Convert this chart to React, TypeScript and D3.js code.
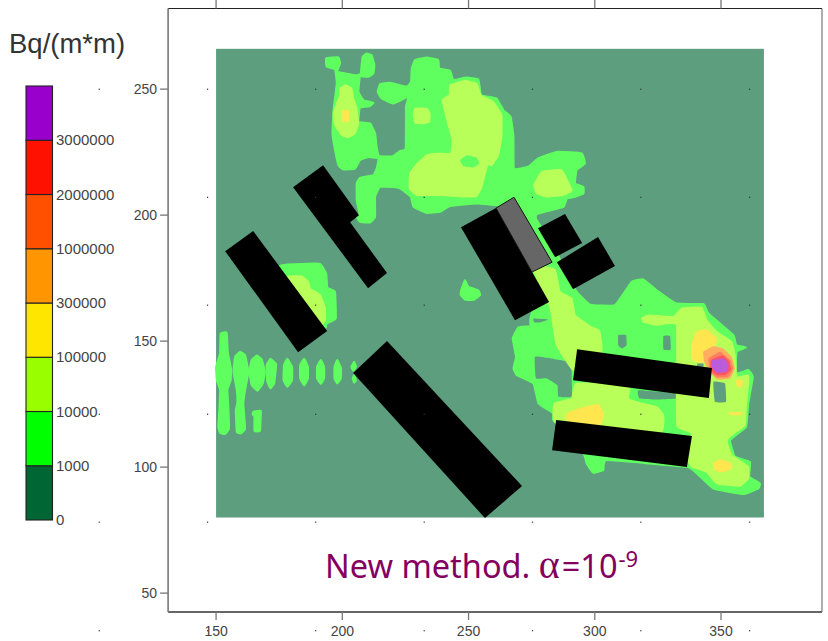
import React from "react";
import * as d3 from "d3";

type Pt = [number, number];

// Legend
const legendLevels = ["0", "1000", "10000", "100000", "300000", "1000000", "2000000", "3000000", ""];
const legendColors = ["#006633", "#00ff00", "#99ff00", "#ffe600", "#ff9500", "#ff5000", "#ff1100", "#9900cc"];

// Axis ticks
const xTicks = [150, 200, 250, 300, 350];
const yTicks = [50, 100, 150, 200, 250];
const dotXs = [103.7, 146.6, 189.4, 232.4, 275.3, 318.2, 361.3];
const dotYs = [250, 207.1, 164.3, 121, 78.2, 35.1];

// Domain covered by the concentration map
const mapX: Pt = [150, 367];
const mapY: Pt = [80, 266];

// Contour level 1 (1000 - 10000 Bq/m2)
const level1: Pt[][] = [
  [[193.6,262.2],[198.5,262.6],[199.1,260.2],[198.1,256.9],[205.7,255.5],[207.3,256.2],[208,262.8],[209.7,264.1],[211.6,263.5],[212.7,259.5],[212.3,256.2],[210.3,254.9],[207,254.9],[206.4,248.9],[208.4,245.6],[212.3,244.6],[211,243.3],[207,242.6],[206.4,237],[211,236.4],[213,232.4],[213.6,227.1],[214.6,223.4],[220,223.4],[222.9,225.5],[225.1,226.4],[225.2,243],[226.2,247],[220.2,244.3],[215.6,246.3],[214,248.9],[215,252],[218.9,252.5],[225.5,250.9],[227.2,252.9],[227.5,258.2],[228.8,261.5],[233.4,262.6],[238,261.5],[238.4,258.2],[242.7,257.3],[244,253.6],[249.3,254.6],[253.9,253.8],[255,247.6],[261.1,246.3],[263.8,241.7],[266.7,239],[267.8,231.1],[268,218.5],[273.7,219.2],[277.6,222.5],[284.9,225.1],[294.8,224.5],[296.1,220.5],[292.8,217.9],[292.2,212.6],[295.5,211.2],[295.5,208.6],[292.2,207.3],[288.9,206.6],[287.6,203.3],[277,200.4],[276.3,198],[267.8,203],[253.9,204.6],[242.7,203.6],[238.7,201.3],[233.4,200.9],[228.2,203.3],[227.1,207.3],[222.9,210.6],[220.2,211.2],[214.9,211.2],[213,207.3],[213,199.3],[211,197.1],[207,197.3],[205.7,199.3],[206.8,200.7],[205.7,205.9],[205.7,212.6],[207,214.8],[212.3,215.9],[213.6,218.5],[214.3,222.5],[210.3,223.1],[207,221.8],[205,218.5],[200.4,218.1],[198.5,219.8],[197.1,225.8],[196.1,232.4],[196.5,241.7],[197.8,252.2],[197.1,257.8],[193.8,258.9]],
  [[276.3,199],[285.5,184],[287,180],[295,165],[282,165],[274.4,177],[269,199]],
  [[291.5,170.9],[298.1,164.5],[308,164.3],[314.6,173.5],[319.2,174.5],[324.5,170.2],[332.4,164.9],[343,164.7],[345,161],[354.9,152.4],[356,148.4],[359.9,147.5],[356.2,145.8],[356,137.2],[360.8,138.5],[362.6,135.8],[360.8,125.3],[359.9,116],[353.6,110.7],[355.5,104.1],[361.5,102.1],[361.2,96.2],[365.4,93.5],[364.8,91.5],[358.8,89.3],[347,91.5],[340.4,97.5],[336.4,100.1],[304.7,102.8],[303.4,98.8],[299.4,97.7],[296.8,101.4],[295.5,105.4],[283.6,118.6],[283.6,121.3],[277.7,125.3],[275.7,133.2],[269.1,136.5],[267.8,139.2],[268.8,143.8],[267.5,151],[269.7,155.4],[274.4,156],[274.4,158.3],[275.7,163],[282.3,170.2],[275.7,178.2],[285,178]],
  [[175.3,179.8],[183.9,180.6],[191.2,180.6],[193.6,176.9],[194.1,171.2],[197.1,169.6],[197.4,159],[193.8,157],[193.2,155.4],[183.3,166.3]],
  [[151.8,153],[154.2,153.3],[154.7,145.1],[155.9,139.2],[155.8,134.5],[154.5,130.6],[154.9,123.3],[155.1,115.3],[153.6,113.1],[151.6,113.6],[150.9,116],[151.3,122.6],[151.6,130.6],[150.3,134.5],[150,139.8],[151.6,145.1]],
  [[159.5,145.8],[161.5,144.4],[162.8,137.8],[161.5,130.6],[160.8,125.3],[161.5,115.3],[159.8,113.4],[158.2,114],[157.8,122.6],[158.4,125.3],[158.2,130.6],[156.9,137.8],[157.5,143.8]],
  [[166.2,144.3],[168.1,142.7],[169.3,137.8],[168.5,133.2],[166.4,130.3],[164.1,132.5],[163.2,137.8],[164.1,142.5]],
  [[164.8,122],[167.7,122.4],[167.7,120.6],[167.4,114.4],[165.2,114.4],[165.2,120],[164.5,121]],
  [[171.6,143],[173.8,140.9],[173.5,137.2],[173,133.2],[171.6,131.2],[170.3,133.9],[170,140.5]],
  [[178.2,143],[180.1,139.8],[180.1,134.5],[178.2,131.9],[176.7,134.5],[176.9,140.5]],
  [[184.9,143],[186.4,139.8],[186.4,135.2],[184.9,132.4],[183.3,135.2],[183.3,140.5]],
  [[191.5,142.5],[192.8,139.8],[192.8,135.2],[191.5,133],[190,135.2],[190,139.8]],
  [[198,142.5],[199.5,139.2],[199.4,135.2],[198,133.2],[196.9,135.2],[196.9,139.8]],
  [[204.7,141.8],[205.4,139.8],[204.4,138.2],[203.6,139.8]],
  [[204.7,136.5],[205.4,134.5],[204.7,133.5],[204.1,135.2]],
  [[248.6,174.2],[249.9,171.6],[253.9,170.2],[254.6,168.3],[251.9,166.3],[248.6,166.5],[246.9,168.3],[247.3,170.9]],
];

// Gaps inside level 1, where the value falls below 1000
const level1Holes: Pt[][] = [
  [[276.3,143.8],[282.9,143.1],[290.5,141.4],[290.9,133.9],[290.9,127.9],[285.6,127.9],[285.2,132.5],[281,135.2],[276.7,135.2]],
  [[309.3,152.4],[312.4,152.4],[312.6,148.4],[310.7,147.1],[309.3,148.4]],
  [[327.2,152],[329.8,152],[330.1,146.7],[327.2,146.7]],
  [[317.3,130.5],[332.4,129.2],[332.4,127.2],[324.5,126.8],[317.7,127.2]],
  [[275.7,159],[281.6,158.6],[278.3,157.4],[276.1,157.4]],
];

// Contour level 2 (10000 - 100000 Bq/m2)
const level2: Pt[][] = [
  [[199.1,250.3],[201.1,251.6],[203.7,250.3],[204.4,246.3],[205.7,242.3],[206.4,236.4],[205,232.4],[202.4,230.8],[199.8,231.7],[197.1,235.7],[196.5,240.3],[197.8,244.3],[199.1,247.6]],
  [[228.8,242.3],[233.4,242.3],[234.7,240.3],[234.5,237],[232.1,236.4],[228.8,236.6],[228.2,239.7]],
  [[242.7,251.6],[248.6,253.3],[253.2,252.2],[254.8,247.6],[259.8,245],[263.1,239.7],[263.1,231.1],[261.8,223.8],[259.2,219.8],[257.5,219.8],[255.2,211.2],[253.2,207.5],[248,207.3],[238.7,207.9],[229.5,207.9],[226.6,210.6],[226.8,216.5],[229.5,220.2],[233.4,223.8],[237.4,224.5],[242.9,224.5],[243.6,229.8],[242,235.7],[239.6,245.6],[242.4,247.6]],
  [[275.9,211.9],[279,217.2],[286.9,217.9],[290.9,209.9],[287.6,208],[281,207.3],[277,208.6]],
  [[280.3,179.4],[284.3,178.2],[286.2,169.6],[290.9,166.9],[292.2,160.3],[298.4,155.7],[301.8,154.1],[302.7,145.8],[291.5,138.5],[284.9,148.4],[283.6,155.7],[282.3,163.6],[279,170.9],[275.7,178.2]],
  [[318.6,159],[321.2,160.3],[331.1,159.7],[334.4,163],[342.3,163.4],[344.3,158.3],[348.3,153.7],[354.2,149.7],[355.6,143.8],[356.2,135.8],[360.8,136.5],[360.8,132.5],[359.9,123.9],[359.5,116.7],[353.3,112],[352.3,110],[354.2,104.8],[360.8,100.1],[360.8,95.5],[357.5,92.5],[348.3,93.5],[344.3,98.1],[338.4,100.1],[337,102.8],[338.4,113.4],[332.7,116],[332.4,126.6],[332.4,156.4],[324.5,156.4],[319.2,157.7]],
  [[284,125.3],[290.9,127.2],[292.6,133.2],[313.3,133.2],[313.3,127.2],[317.9,125.5],[324.5,123.9],[327.2,120.6],[325.6,113.4],[284.9,117.3]],
  [[178.3,175.5],[183.9,175.8],[186.6,173.5],[187.2,170.9],[191.2,168.3],[193.2,163],[193.2,158.3],[191.8,157],[183.3,166.3]],
];

// Hollows of level 2 going back to level 1
const level2Holes: Pt[][] = [
  [[246.6,221.8],[249.3,223.8],[253.2,222.9],[254.3,220.5],[251.9,218.9],[248,219.4]],
];

// Gaps in the right part
const level2Gaps: Pt[][] = [
  [[347,133.9],[351.6,133.2],[352,125.9],[347.6,125.9]],
  [[340.6,141.1],[343,141.1],[343,139.8],[340.6,139.8]],
];

// Contour level 3 (100000 - 300000 Bq/m2)
const level3: Pt[][] = [
  [[288.9,121.3],[294.2,123.3],[301.4,124.9],[303.4,121.3],[302.1,116.7],[288.9,118.6]],
  [[338.4,148.4],[340.4,153.7],[344.3,154.6],[348.3,151],[347,146.4],[348.3,141.1],[340.4,141.8],[338.4,143.1]],
  [[356,134.5],[358.6,134.3],[358.2,131.9],[356.5,131.9]],
  [[353.3,121.6],[358.2,121.6],[358.2,120.8],[353.6,120.8]],
  [[347,101.5],[349.6,103],[353.6,101.7],[354.2,99.5],[350.9,98.1],[347.6,98.8]],
];
const level3Block: Pt[] = [[200,241.7],[202.7,241.7],[202.7,237],[200,237]];

// Peak around the source
const level4: Pt[] = [[343,145.8],[347,148],[350.9,147.1],[354.2,143.8],[355.5,139.2],[353.6,135.2],[348.3,134.8],[345,138.5],[343.3,141.8]];
const level5: Pt[] = [[345,143.1],[349.6,145.8],[353.6,142.5],[354.9,139.2],[352.9,135.8],[348.3,135.6],[345.6,137.8]];
const level6: Pt[] = [[345.9,142.5],[350.7,144.4],[353.3,141.8],[354,138.5],[351.6,136.5],[348.3,136.5],[346,138.5]];
const level7: Pt[] = [[346.6,142.5],[351.2,143.1],[353,140.5],[352.3,137.8],[348.3,137.4],[346.3,139.8]];

// Buildings
const buildings: Pt[][] = [
  [[153.6,185.7],[164.7,193.7],[194,154],[182.5,145.6]],
  [[180.5,211.1],[192.4,219.8],[206.6,200],[203.1,197.2],[217.7,177],[210.2,171]],
  [[217.7,150],[271.2,92.5],[256.5,79.8],[204.3,137.3]],
  [[247,195.2],[260.9,202.8],[281.9,165.5],[268.4,158.3]],
  [[277.5,194.8],[288.2,200.4],[295,188.9],[284.3,183.3]],
  [[285,181.3],[301.3,191.3],[308,179.8],[291.4,170.6]],
  [[293,146.8],[346.4,139.3],[345.2,127.4],[291.4,134.5]],
  [[284.7,118.7],[338.5,112.3],[336.5,100],[283.1,106.7]],
];
const grayBuilding: Pt[] = [[260.9,202.8],[268,207.1],[283.1,181.3],[275.1,177.4]];

const W = 828;
const H = 641;
const x = d3.scaleLinear().domain([131, 390]).range([168.1, 822]);
const y = d3.scaleLinear().domain([42.5, 282]).range([612, 8.5]);
const legendY = d3.scaleBand<number>().domain(d3.range(legendColors.length)).range([520, 86]);

const smooth = d3.line<Pt>().x((d) => x(d[0])).y((d) => y(d[1])).curve(d3.curveCardinalClosed.tension(0.7));
const sharp = d3.line<Pt>().x((d) => x(d[0])).y((d) => y(d[1])).curve(d3.curveLinearClosed);

const BG = "#5c9e7e";
const L1 = "#5fff5f";
const L2 = "#b8ff5a";
const L3 = "#ffe650";
const L4 = "#ffae60";
const L5 = "#ff8060";
const L6 = "#ff5560";
const L7 = "#bb5cdd";
const AXIS = "#777";
const LABEL = "#444";
const SANS = "'Liberation Sans', Arial, sans-serif";

export default function App() {
  const fills = (polys: Pt[][], color: string, grow = 0) =>
    polys.map((p, i) => (
      <path key={color + i} d={smooth(p) ?? ""} fill={color} stroke={grow ? color : "none"} strokeWidth={grow} strokeLinejoin="round" />
    ));
  return (
    <svg width={W} height={H} viewBox={`0 0 ${W} ${H}`} style={{ position: "absolute", left: 0, top: 0, display: "block" }}>
      <defs>
        <filter id="soft" x="-2%" y="-2%" width="104%" height="104%">
          <feGaussianBlur stdDeviation={0.45} />
        </filter>
      </defs>
      <rect x={0} y={0} width={W} height={H} fill="#fff" />

      {/* frame */}
      <line x1={x.range()[0]} x2={x.range()[1]} y1={y(282)} y2={y(282)} stroke="#222" strokeWidth={1.2} />
      <line x1={x.range()[0]} x2={x.range()[1]} y1={y(42.5)} y2={y(42.5)} stroke="#333" strokeWidth={1.4} />
      <line x1={x.range()[0]} x2={x.range()[0]} y1={y(282)} y2={y(42.5)} stroke={AXIS} strokeWidth={1.6} />
      <line x1={x.range()[1]} x2={x.range()[1]} y1={y(282)} y2={y(42.5)} stroke={AXIS} strokeWidth={1.2} />

      {xTicks.map((t) => (
        <g key={t} stroke={AXIS} strokeWidth={1.3}>
          <line x1={x(t)} x2={x(t)} y1={y(42.5)} y2={y(42.5) + 8} />
          <line x1={x(t)} x2={x(t)} y1={0} y2={y(282)} />
        </g>
      ))}
      {xTicks.map((t) => (
        <text key={t} x={x(t)} y={636} textAnchor="middle" fontFamily={SANS} fontSize={14} fill={LABEL}>{t}</text>
      ))}
      {yTicks.map((t) => (
        <line key={t} x1={x.range()[0] - 8} x2={x.range()[0]} y1={y(t)} y2={y(t)} stroke={AXIS} strokeWidth={1.3} />
      ))}
      {yTicks.map((t) => (
        <text key={t} x={157} y={y(t) + 5} textAnchor="end" fontFamily={SANS} fontSize={14} fill={LABEL}>{t}</text>
      ))}

      {/* concentration map */}
      <g filter="url(#soft)">
        <rect x={x(mapX[0])} y={y(mapY[1])} width={x(mapX[1]) - x(mapX[0])} height={y(mapY[0]) - y(mapY[1])} fill={BG} />
        {fills(level1, L1, 2)}
        {fills(level1Holes, BG)}
        {fills(level2, L2, 1.5)}
        {fills(level2Holes, L1)}
        {fills(level2Gaps, BG)}
        {fills(level3, L3, 1)}
        <path d={sharp(level3Block) ?? ""} fill={L3} />
        <path d={smooth(level4) ?? ""} fill={L4} />
        <path d={smooth(level5) ?? ""} fill={L5} />
        <path d={smooth(level6) ?? ""} fill={L6} />
        <path d={smooth(level7) ?? ""} fill={L7} />

        {/* buildings */}
        {buildings.map((b, i) => (
          <path key={i} d={sharp(b) ?? ""} fill="#000" />
        ))}
        <path d={sharp(grayBuilding) ?? ""} fill="#666" stroke="#111" strokeWidth={1} />
      </g>

      {/* slide grid dots */}
      {dotXs.flatMap((dx, i) =>
        dotYs
          .filter((_, j) => !(i === 0 && (j === 1 || j === 2)))
          .map((dy) => <rect key={`${dx}-${dy}`} x={x(dx) - 0.5} y={y(dy) - 0.5} width={1.2} height={1.2} fill="#333" />)
      )}

      {/* legend */}
      <text x={9} y={53} fontFamily={SANS} fontSize={27.5} fill="#333">Bq/(m*m)</text>
      {legendColors.map((c, i) => (
        <rect key={c} x={26} y={legendY(i)} width={26.5} height={legendY.bandwidth()} fill={c} stroke="#222" strokeWidth={1.1} />
      ))}
      {legendLevels.map((l, i) => (
        <text key={l + i} x={56} y={(legendY(i) ?? 0) + legendY.bandwidth() + 5} fontFamily={SANS} fontSize={15} fill={LABEL}>{l}</text>
      ))}

      {/* caption */}
      <text x={325} y={578} fontFamily="'Noto Sans', sans-serif" fontSize={32.5} fill="#84005f">
        New method. <tspan fontFamily="'Liberation Serif', serif" fontSize={40}>α</tspan><tspan dx={2}>=10</tspan>
        <tspan dy={-11} dx={1} fontSize={22}>-9</tspan>
      </text>
    </svg>
  );
}
